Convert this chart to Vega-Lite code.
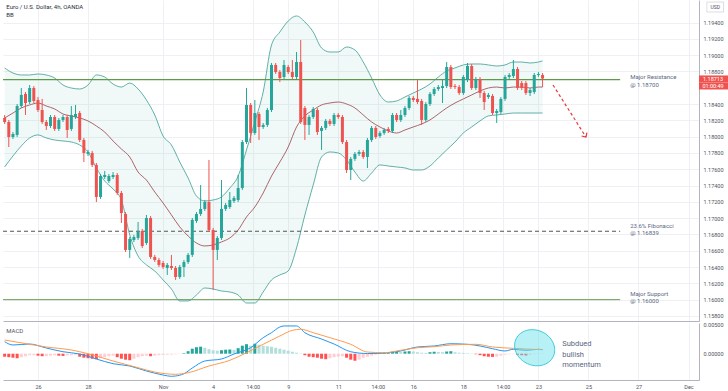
{
"$schema": "https://vega.github.io/schema/vega-lite/v6.json",
"padding": 0,
"background": "white",
"config": {"view": {"stroke": null}, "font": "Roboto", "concat": {"spacing": 1}, "scale": {"continuousPadding": 0}},
"datasets": {
"c": [
{"i":-8,"o":1.18229,"h":1.18266,"l":1.18156,"c":1.1818,"hist":-0.00052},
{"i":-7,"o":1.1818,"h":1.18205,"l":1.17873,"c":1.17996,"hist":-0.0006},
{"i":-6,"o":1.17996,"h":1.18057,"l":1.17972,"c":1.18033,"hist":-0.00069},
{"i":-5,"o":1.18021,"h":1.18401,"l":1.17996,"c":1.18376,"hist":-0.00078},
{"i":-4,"o":1.18376,"h":1.18597,"l":1.18352,"c":1.18512,"hist":-0.0006},
{"i":-3,"o":1.18524,"h":1.18548,"l":1.18266,"c":1.18413,"hist":-0.00043},
{"i":-2,"o":1.18425,"h":1.18634,"l":1.18401,"c":1.18597,"hist":-0.00026},
{"i":-1,"o":1.18597,"h":1.18621,"l":1.18413,"c":1.18438,"hist":-0.00026},
{"i":0,"o":1.1845,"h":1.18487,"l":1.18302,"c":1.18327,"hist":-0.00034},
{"i":1,"o":1.18327,"h":1.18463,"l":1.18156,"c":1.1818,"hist":-0.00043},
{"i":2,"o":1.1818,"h":1.18205,"l":1.18082,"c":1.18131,"hist":-0.00043},
{"i":3,"o":1.18131,"h":1.18266,"l":1.18107,"c":1.18241,"hist":-0.00034},
{"i":4,"o":1.18241,"h":1.18266,"l":1.1807,"c":1.18095,"hist":-0.00026},
{"i":5,"o":1.18095,"h":1.18229,"l":1.1807,"c":1.18205,"hist":-0.00034},
{"i":6,"o":1.18205,"h":1.18266,"l":1.1818,"c":1.18241,"hist":-0.00038},
{"i":7,"o":1.18241,"h":1.18266,"l":1.17984,"c":1.18082,"hist":-0.00031},
{"i":8,"o":1.18095,"h":1.18376,"l":1.1807,"c":1.18266,"hist":-0.00026},
{"i":9,"o":1.18241,"h":1.18389,"l":1.18217,"c":1.18278,"hist":-0.00017},
{"i":10,"o":1.1829,"h":1.18315,"l":1.17934,"c":1.17959,"hist":-0.00052},
{"i":11,"o":1.17959,"h":1.17984,"l":1.17689,"c":1.178,"hist":-0.00069},
{"i":12,"o":1.17788,"h":1.17837,"l":1.17763,"c":1.17812,"hist":-0.00078},
{"i":13,"o":1.178,"h":1.17825,"l":1.17628,"c":1.17653,"hist":-0.00086},
{"i":14,"o":1.17653,"h":1.17677,"l":1.17198,"c":1.1726,"hist":-0.00095},
{"i":15,"o":1.1726,"h":1.17542,"l":1.17236,"c":1.17517,"hist":-0.00078},
{"i":16,"o":1.17505,"h":1.17579,"l":1.17481,"c":1.1753,"hist":-0.0006},
{"i":17,"o":1.17456,"h":1.17542,"l":1.17431,"c":1.17517,"hist":-0.00043},
{"i":18,"o":1.17505,"h":1.17566,"l":1.17481,"c":1.1753,"hist":-0.00034},
{"i":19,"o":1.1753,"h":1.17554,"l":1.17285,"c":1.17309,"hist":-0.0006},
{"i":20,"o":1.17309,"h":1.17334,"l":1.16941,"c":1.17063,"hist":-0.00086},
{"i":21,"o":1.17051,"h":1.17075,"l":1.16585,"c":1.1661,"hist":-0.00103},
{"i":22,"o":1.1661,"h":1.16769,"l":1.16512,"c":1.16745,"hist":-0.00112},
{"i":23,"o":1.16732,"h":1.16794,"l":1.16707,"c":1.16769,"hist":-0.00086},
{"i":24,"o":1.16757,"h":1.16953,"l":1.16732,"c":1.1683,"hist":-0.0006},
{"i":25,"o":1.16843,"h":1.16868,"l":1.16634,"c":1.16658,"hist":-0.00043},
{"i":26,"o":1.16695,"h":1.17039,"l":1.16671,"c":1.17002,"hist":-0.00034},
{"i":27,"o":1.17002,"h":1.17026,"l":1.165,"c":1.16524,"hist":-0.00043},
{"i":28,"o":1.16524,"h":1.16549,"l":1.16462,"c":1.16487,"hist":-0.00034},
{"i":29,"o":1.16487,"h":1.16512,"l":1.16401,"c":1.16426,"hist":-0.00026},
{"i":30,"o":1.1645,"h":1.16475,"l":1.16377,"c":1.16401,"hist":-0.00021},
{"i":31,"o":1.16389,"h":1.1645,"l":1.16303,"c":1.16426,"hist":-0.00017},
{"i":32,"o":1.16413,"h":1.16549,"l":1.16364,"c":1.16389,"hist":-0.00014},
{"i":33,"o":1.16389,"h":1.16413,"l":1.16242,"c":1.16278,"hist":-0.00009},
{"i":34,"o":1.16278,"h":1.16426,"l":1.16254,"c":1.16401,"hist":-0.00005},
{"i":35,"o":1.16401,"h":1.16487,"l":1.16278,"c":1.16462,"hist":0.00009},
{"i":36,"o":1.16462,"h":1.16573,"l":1.16438,"c":1.16549,"hist":0.00043},
{"i":37,"o":1.16549,"h":1.17002,"l":1.16524,"c":1.16978,"hist":0.00086},
{"i":38,"o":1.16966,"h":1.17075,"l":1.16941,"c":1.17051,"hist":0.00112},
{"i":39,"o":1.17051,"h":1.17407,"l":1.17026,"c":1.17113,"hist":0.00121},
{"i":40,"o":1.17113,"h":1.17223,"l":1.17088,"c":1.17198,"hist":0.00103},
{"i":41,"o":1.17198,"h":1.17714,"l":1.1683,"c":1.16855,"hist":0.00078},
{"i":42,"o":1.16855,"h":1.1688,"l":1.16119,"c":1.1661,"hist":0.0006},
{"i":43,"o":1.1661,"h":1.16781,"l":1.16487,"c":1.16757,"hist":0.00052},
{"i":44,"o":1.16757,"h":1.17468,"l":1.16732,"c":1.17113,"hist":0.0006},
{"i":45,"o":1.17113,"h":1.17186,"l":1.17088,"c":1.17162,"hist":0.00069},
{"i":46,"o":1.17137,"h":1.17321,"l":1.17113,"c":1.17223,"hist":0.00072},
{"i":47,"o":1.17211,"h":1.17272,"l":1.17186,"c":1.17248,"hist":0.00066},
{"i":48,"o":1.17223,"h":1.1753,"l":1.17198,"c":1.1737,"hist":0.00095},
{"i":49,"o":1.1737,"h":1.17959,"l":1.17346,"c":1.17934,"hist":0.00138},
{"i":50,"o":1.17934,"h":1.18597,"l":1.1791,"c":1.18389,"hist":0.00164},
{"i":51,"o":1.18389,"h":1.18413,"l":1.17922,"c":1.18045,"hist":0.00138},
{"i":52,"o":1.18045,"h":1.1845,"l":1.18021,"c":1.1829,"hist":0.00172},
{"i":53,"o":1.18278,"h":1.18302,"l":1.17959,"c":1.18119,"hist":0.00155},
{"i":54,"o":1.18119,"h":1.18168,"l":1.18095,"c":1.18144,"hist":0.00138},
{"i":55,"o":1.18144,"h":1.18352,"l":1.18119,"c":1.18327,"hist":0.00129},
{"i":56,"o":1.18327,"h":1.18904,"l":1.18302,"c":1.1888,"hist":0.00121},
{"i":57,"o":1.1888,"h":1.18904,"l":1.18769,"c":1.18793,"hist":0.00103},
{"i":58,"o":1.18793,"h":1.18818,"l":1.1867,"c":1.1872,"hist":0.00086},
{"i":59,"o":1.18732,"h":1.18941,"l":1.18708,"c":1.1888,"hist":0.00069},
{"i":60,"o":1.18855,"h":1.1888,"l":1.18769,"c":1.18793,"hist":0.00052},
{"i":61,"o":1.18793,"h":1.18941,"l":1.18708,"c":1.18732,"hist":0.00034},
{"i":62,"o":1.18732,"h":1.19039,"l":1.18708,"c":1.18916,"hist":0.00017},
{"i":63,"o":1.18916,"h":1.19186,"l":1.18156,"c":1.1818,"hist":0.00005},
{"i":64,"o":1.18352,"h":1.18376,"l":1.17959,"c":1.18144,"hist":-0.00026},
{"i":65,"o":1.18144,"h":1.18266,"l":1.18021,"c":1.18241,"hist":-0.00052},
{"i":66,"o":1.18241,"h":1.18364,"l":1.18217,"c":1.1834,"hist":-0.0006},
{"i":67,"o":1.18327,"h":1.18352,"l":1.18021,"c":1.18057,"hist":-0.00069},
{"i":68,"o":1.1807,"h":1.18131,"l":1.17837,"c":1.18107,"hist":-0.00086},
{"i":69,"o":1.18107,"h":1.18217,"l":1.18082,"c":1.18193,"hist":-0.00095},
{"i":70,"o":1.18193,"h":1.18217,"l":1.18131,"c":1.18156,"hist":-0.00078},
{"i":71,"o":1.18156,"h":1.1829,"l":1.18131,"c":1.18266,"hist":-0.0006},
{"i":72,"o":1.18266,"h":1.1829,"l":1.18217,"c":1.18241,"hist":-0.00052},
{"i":73,"o":1.18241,"h":1.18266,"l":1.1791,"c":1.17934,"hist":-0.00043},
{"i":74,"o":1.17934,"h":1.17959,"l":1.17554,"c":1.17591,"hist":-0.00069},
{"i":75,"o":1.17591,"h":1.17751,"l":1.17468,"c":1.17727,"hist":-0.00103},
{"i":76,"o":1.17727,"h":1.17812,"l":1.17702,"c":1.17788,"hist":-0.00121},
{"i":77,"o":1.17788,"h":1.17837,"l":1.17763,"c":1.17812,"hist":-0.00103},
{"i":78,"o":1.17812,"h":1.17837,"l":1.17727,"c":1.17751,"hist":-0.00069},
{"i":79,"o":1.17751,"h":1.17984,"l":1.17616,"c":1.17959,"hist":-0.00052},
{"i":80,"o":1.17959,"h":1.18131,"l":1.17934,"c":1.18107,"hist":-0.00034},
{"i":81,"o":1.18107,"h":1.18131,"l":1.17972,"c":1.17996,"hist":-0.00017},
{"i":82,"o":1.18008,"h":1.1807,"l":1.17984,"c":1.18045,"hist":0.00009},
{"i":83,"o":1.18045,"h":1.18107,"l":1.18021,"c":1.18082,"hist":0.00017},
{"i":84,"o":1.18095,"h":1.18119,"l":1.18045,"c":1.1807,"hist":0.00026},
{"i":85,"o":1.1807,"h":1.1829,"l":1.18045,"c":1.18266,"hist":0.00034},
{"i":86,"o":1.18266,"h":1.1829,"l":1.1818,"c":1.18205,"hist":0.00034},
{"i":87,"o":1.18205,"h":1.18327,"l":1.1818,"c":1.18266,"hist":0.00031},
{"i":88,"o":1.18266,"h":1.18376,"l":1.18241,"c":1.18352,"hist":0.00038},
{"i":89,"o":1.18352,"h":1.18499,"l":1.18327,"c":1.18475,"hist":0.00043},
{"i":90,"o":1.18475,"h":1.18499,"l":1.18425,"c":1.1845,"hist":0.00038},
{"i":91,"o":1.18463,"h":1.18695,"l":1.18401,"c":1.18425,"hist":0.00026},
{"i":92,"o":1.18438,"h":1.18463,"l":1.18144,"c":1.18205,"hist":0.00017},
{"i":93,"o":1.18205,"h":1.18425,"l":1.1818,"c":1.18401,"hist":0.00014},
{"i":94,"o":1.18401,"h":1.18548,"l":1.18376,"c":1.18524,"hist":0.00026},
{"i":95,"o":1.18524,"h":1.18609,"l":1.18499,"c":1.18585,"hist":0.00034},
{"i":96,"o":1.18585,"h":1.18634,"l":1.18561,"c":1.18609,"hist":0.00031},
{"i":97,"o":1.18597,"h":1.18695,"l":1.18413,"c":1.18621,"hist":0.00026},
{"i":98,"o":1.18621,"h":1.18916,"l":1.18597,"c":1.18855,"hist":0.00038},
{"i":99,"o":1.18855,"h":1.1888,"l":1.18585,"c":1.18609,"hist":0.00043},
{"i":100,"o":1.18621,"h":1.18646,"l":1.18585,"c":1.18609,"hist":0.00026},
{"i":101,"o":1.18609,"h":1.18634,"l":1.18512,"c":1.18536,"hist":0.00017},
{"i":102,"o":1.18536,"h":1.18757,"l":1.18512,"c":1.18732,"hist":0.00014},
{"i":103,"o":1.18695,"h":1.18904,"l":1.1867,"c":1.18867,"hist":0.00009},
{"i":104,"o":1.18867,"h":1.18892,"l":1.18573,"c":1.18597,"hist":0.00005},
{"i":105,"o":1.18597,"h":1.18732,"l":1.18573,"c":1.18708,"hist":-0.00009},
{"i":106,"o":1.18708,"h":1.18732,"l":1.18475,"c":1.18536,"hist":-0.00026},
{"i":107,"o":1.18536,"h":1.18561,"l":1.18327,"c":1.18425,"hist":-0.00043},
{"i":108,"o":1.18487,"h":1.18536,"l":1.18463,"c":1.18512,"hist":-0.00052},
{"i":109,"o":1.18499,"h":1.18524,"l":1.18266,"c":1.1829,"hist":-0.00055},
{"i":110,"o":1.1829,"h":1.1834,"l":1.18168,"c":1.18315,"hist":-0.00052},
{"i":111,"o":1.18302,"h":1.18487,"l":1.18278,"c":1.18463,"hist":-0.00034},
{"i":112,"o":1.18463,"h":1.18757,"l":1.18438,"c":1.18732,"hist":-0.00017},
{"i":113,"o":1.18732,"h":1.18781,"l":1.18708,"c":1.18757,"hist":-0.00009},
{"i":114,"o":1.18744,"h":1.18941,"l":1.1872,"c":1.1883,"hist":-0.00005},
{"i":115,"o":1.1883,"h":1.18855,"l":1.18573,"c":1.18597,"hist":-0.00017},
{"i":116,"o":1.18658,"h":1.18683,"l":1.18573,"c":1.18597,"hist":-0.00026},
{"i":117,"o":1.18658,"h":1.18683,"l":1.18512,"c":1.18536,"hist":-0.00031},
{"i":118,"o":1.18536,"h":1.18597,"l":1.18499,"c":1.18573,"hist":-0.00017},
{"i":119,"o":1.18548,"h":1.18781,"l":1.18524,"c":1.18757,"hist":-0.00009},
{"i":120,"o":1.18757,"h":1.18793,"l":1.18732,"c":1.18769,"hist":-0.00005},
{"i":121,"o":1.18757,"h":1.18781,"l":1.18609,"c":1.18713,"hist":-0.00003}
],
"bb": [
{"i":-8,"u":1.18843,"m":1.18229,"lo":1.17628},
{"i":-6,"u":1.18781,"m":1.1829,"lo":1.17763},
{"i":-4,"u":1.18757,"m":1.18352,"lo":1.17886},
{"i":-2,"u":1.18757,"m":1.18389,"lo":1.17984},
{"i":0,"u":1.18769,"m":1.18413,"lo":1.18021},
{"i":2,"u":1.18757,"m":1.18376,"lo":1.17984},
{"i":4,"u":1.1872,"m":1.1834,"lo":1.17959},
{"i":6,"u":1.18634,"m":1.18278,"lo":1.17947},
{"i":8,"u":1.18597,"m":1.18254,"lo":1.17934},
{"i":10,"u":1.18585,"m":1.18229,"lo":1.17898},
{"i":12,"u":1.18634,"m":1.18193,"lo":1.17812},
{"i":14,"u":1.18757,"m":1.18131,"lo":1.17616},
{"i":16,"u":1.18732,"m":1.18057,"lo":1.17456},
{"i":18,"u":1.18646,"m":1.17947,"lo":1.17358},
{"i":20,"u":1.18609,"m":1.17849,"lo":1.17223},
{"i":22,"u":1.18658,"m":1.17751,"lo":1.16794},
{"i":24,"u":1.18585,"m":1.17566,"lo":1.16536},
{"i":26,"u":1.1845,"m":1.17468,"lo":1.16426},
{"i":28,"u":1.18266,"m":1.17321,"lo":1.16352},
{"i":30,"u":1.18008,"m":1.17186,"lo":1.16242},
{"i":32,"u":1.17898,"m":1.17039,"lo":1.16131},
{"i":34,"u":1.17689,"m":1.16892,"lo":1.15984},
{"i":36,"u":1.17493,"m":1.16781,"lo":1.15984},
{"i":38,"u":1.17272,"m":1.16695,"lo":1.16057},
{"i":40,"u":1.17211,"m":1.16659,"lo":1.16143},
{"i":42,"u":1.17223,"m":1.16671,"lo":1.16131},
{"i":44,"u":1.1726,"m":1.16708,"lo":1.16106},
{"i":46,"u":1.1737,"m":1.16757,"lo":1.16094},
{"i":48,"u":1.17517,"m":1.16855,"lo":1.16057},
{"i":50,"u":1.17837,"m":1.17014,"lo":1.15959},
{"i":52,"u":1.1818,"m":1.17137,"lo":1.15959},
{"i":54,"u":1.18548,"m":1.17309,"lo":1.16094},
{"i":56,"u":1.19125,"m":1.17517,"lo":1.16242},
{"i":58,"u":1.19284,"m":1.17689,"lo":1.16303},
{"i":60,"u":1.19419,"m":1.17873,"lo":1.16352},
{"i":62,"u":1.19481,"m":1.18119,"lo":1.16634},
{"i":64,"u":1.19407,"m":1.18254,"lo":1.17039},
{"i":66,"u":1.19284,"m":1.18327,"lo":1.17407},
{"i":68,"u":1.19088,"m":1.18389,"lo":1.17751},
{"i":70,"u":1.19039,"m":1.18413,"lo":1.17812},
{"i":72,"u":1.19039,"m":1.18425,"lo":1.178},
{"i":74,"u":1.191,"m":1.18401,"lo":1.17714},
{"i":76,"u":1.19064,"m":1.18352,"lo":1.17566},
{"i":78,"u":1.18916,"m":1.18266,"lo":1.17456},
{"i":80,"u":1.1872,"m":1.1818,"lo":1.17554},
{"i":82,"u":1.18512,"m":1.18119,"lo":1.17653},
{"i":84,"u":1.18425,"m":1.1807,"lo":1.1764},
{"i":86,"u":1.18438,"m":1.18045,"lo":1.17628},
{"i":88,"u":1.18487,"m":1.18082,"lo":1.17616},
{"i":90,"u":1.18536,"m":1.18119,"lo":1.17591},
{"i":92,"u":1.18585,"m":1.18156,"lo":1.17591},
{"i":94,"u":1.18646,"m":1.18205,"lo":1.1764},
{"i":96,"u":1.18732,"m":1.18278,"lo":1.17739},
{"i":98,"u":1.18806,"m":1.18352,"lo":1.17837},
{"i":100,"u":1.18843,"m":1.18413,"lo":1.17934},
{"i":102,"u":1.1888,"m":1.18463,"lo":1.18045},
{"i":104,"u":1.18892,"m":1.18512,"lo":1.18119},
{"i":106,"u":1.18892,"m":1.18561,"lo":1.18193},
{"i":108,"u":1.1888,"m":1.18597,"lo":1.18254},
{"i":110,"u":1.18867,"m":1.18609,"lo":1.18266},
{"i":112,"u":1.1888,"m":1.18597,"lo":1.18278},
{"i":114,"u":1.18916,"m":1.18609,"lo":1.1829},
{"i":116,"u":1.18916,"m":1.18609,"lo":1.1829},
{"i":118,"u":1.18904,"m":1.18597,"lo":1.1829},
{"i":120,"u":1.18916,"m":1.18609,"lo":1.1829},
{"i":121,"u":1.18929,"m":1.18609,"lo":1.1829}
],
"mb": [
{"i":-8,"v":0.00207},{"i":-6,"v":0.0015},{"i":-2,"v":0.00167},{"i":2,"v":0.00098},{"i":6,"v":0.00034},{"i":10,"v":-0.00005},{"i":14,"v":-0.00091},{"i":18,"v":-0.00172},{"i":22,"v":-0.00212},{"i":26,"v":-0.00298},{"i":30,"v":-0.00367},{"i":32,"v":-0.0039},{"i":33,"v":-0.00384},{"i":35,"v":-0.00345},{"i":37,"v":-0.00247},{"i":40,"v":-0.00126},{"i":44,"v":-0.00091},{"i":47,"v":-0.00005},{"i":51,"v":0.00103},{"i":54,"v":0.00276},{"i":56,"v":0.00362},{"i":58,"v":0.0046},{"i":59,"v":0.00478},{"i":62,"v":0.00478},{"i":64,"v":0.00362},{"i":68,"v":0.00253},{"i":71,"v":0.00167},{"i":75,"v":0.00034},{"i":79,"v":0.00003},{"i":82,"v":0.00007},{"i":87,"v":0.00047},{"i":91,"v":0.00116},{"i":95,"v":0.00133},{"i":99,"v":0.00172},{"i":103,"v":0.00162},{"i":106,"v":0.00133},{"i":109,"v":0.00086},{"i":112,"v":0.00047},{"i":114,"v":0.00076},{"i":117,"v":0.00059},{"i":120,"v":0.00076},{"i":121,"v":0.00069}
],
"ms": [
{"i":-8,"v":0.00236},{"i":-2,"v":0.00162},{"i":2,"v":0.00116},{"i":8,"v":0.00064},{"i":12,"v":0},{"i":18,"v":-0.00126},{"i":24,"v":-0.00241},{"i":28,"v":-0.00316},{"i":33,"v":-0.00355},{"i":36,"v":-0.00328},{"i":41,"v":-0.00212},{"i":46,"v":-0.00114},{"i":50,"v":0.00017},{"i":54,"v":0.00162},{"i":58,"v":0.00305},{"i":61,"v":0.00403},{"i":63,"v":0.00421},{"i":66,"v":0.00362},{"i":70,"v":0.00276},{"i":75,"v":0.00162},{"i":79,"v":0.00029},{"i":83,"v":0.00017},{"i":87,"v":0.00059},{"i":91,"v":0.00103},{"i":95,"v":0.00121},{"i":99,"v":0.0015},{"i":105,"v":0.00162},{"i":109,"v":0.00116},{"i":114,"v":0.00093},{"i":117,"v":0.00081},{"i":121,"v":0.00069}
],
"lev": [
{"i":-8.39,"p":1.187,"k":"res"},{"i":139.6,"p":1.187,"k":"res"},
{"i":-8.39,"p":1.16839,"k":"fib"},{"i":139.6,"p":1.16839,"k":"fib"},
{"i":-8.39,"p":1.16,"k":"sup"},{"i":139.6,"p":1.16,"k":"sup"}
],
"levlab": [
{"i":142,"p":1.18732,"t":"Major Resistance"},
{"i":142,"p":1.1864,"t":"@ 1.18700"},
{"i":142,"p":1.16904,"t":"23.6% Fibonacci"},
{"i":142,"p":1.16818,"t":"@ 1.16839"},
{"i":142,"p":1.1607,"t":"Major Support"},
{"i":142,"p":1.15984,"t":"@ 1.16000"}
],
"arrow": [{"i":123.5,"p":1.18634},{"i":131.4,"p":1.17996}],
"ttl": [{"i":-7.6,"p":1.19591,"t":"Euro / U.S. Dollar, 4h, OANDA"},{"i":-7.6,"p":1.19493,"t":"BB"}],
"pbox": [{"i":158.51,"i2":165.6,"p":1.18751,"p2":1.18665,"tp":1.18708,"t":"1.18713"},{"i":158.51,"i2":165.6,"p":1.18665,"p2":1.18579,"tp":1.18622,"t":"01:00:49"}],
"usdbox": [{"i":160.4,"i2":164.4,"p":1.19652,"p2":1.1953}],
"usdtxt": [{"i":162.4,"p":1.19591,"t":"USD"}],
"ell": [{"i":119.1,"v":0.00103}],
"mlab": [{"i":-7.6,"v":0.00391,"t":"MACD"}],
"note": [{"i":125.7,"v":0.00167,"t":"Subdued"},{"i":125.7,"v":-0.00014,"t":"bullish"},{"i":125.7,"v":-0.00195,"t":"momentum"}]
},
"vconcat": [
{
"width": 696, "height": 321,
"encoding": {"x": {"field":"i","type":"quantitative","title":null,"scale":{"domain":[-8.39,158.51],"nice":false,"zero":false,"padding":0},"axis":{"orient":"bottom","values":[0,12,30,42,51.5,60,72,81.5,90,102,111.5,120,132,144,156],"labels":false,"ticks":false,"domain":true,"domainColor":"#b2b5be","grid":true,"gridColor":"#eef0f3"}}},
"layer": [
{"data":{"name":"bb"},"mark":{"type":"area","color":"#26a69a","opacity":0.07,"interpolate":"monotone"},
 "encoding":{"y":{"field":"u","type":"quantitative","title":null,"scale":{"domain":[1.15738,1.19677],"nice":false,"zero":false},"axis":{"orient":"right","values":[1.158,1.16,1.162,1.164,1.166,1.168,1.17,1.172,1.174,1.176,1.178,1.18,1.182,1.184,1.188,1.19,1.192,1.194],"labelExpr":"format(datum.value, '.5f')","grid":true,"gridColor":"#eef0f3","domain":true,"domainColor":"#b2b5be","ticks":false,"labelFontSize":5.5,"labelColor":"#50535e","labelPadding":4}},"y2":{"field":"lo"}}},
{"data":{"name":"bb"},"mark":{"type":"line","color":"#4fa79d","strokeWidth":0.9,"interpolate":"monotone"},
 "encoding":{"y":{"field":"u","type":"quantitative","title":null,"scale":{"domain":[1.15738,1.19677],"nice":false,"zero":false},"axis":{"orient":"right","values":[1.158,1.16,1.162,1.164,1.166,1.168,1.17,1.172,1.174,1.176,1.178,1.18,1.182,1.184,1.188,1.19,1.192,1.194],"labelExpr":"format(datum.value, '.5f')","grid":true,"gridColor":"#eef0f3","domain":true,"domainColor":"#b2b5be","ticks":false,"labelFontSize":5.5,"labelColor":"#50535e","labelPadding":4}}}},
{"data":{"name":"bb"},"mark":{"type":"line","color":"#4fa79d","strokeWidth":0.9,"interpolate":"monotone"},
 "encoding":{"y":{"field":"lo","type":"quantitative","title":null,"scale":{"domain":[1.15738,1.19677],"nice":false,"zero":false},"axis":{"orient":"right","values":[1.158,1.16,1.162,1.164,1.166,1.168,1.17,1.172,1.174,1.176,1.178,1.18,1.182,1.184,1.188,1.19,1.192,1.194],"labelExpr":"format(datum.value, '.5f')","grid":true,"gridColor":"#eef0f3","domain":true,"domainColor":"#b2b5be","ticks":false,"labelFontSize":5.5,"labelColor":"#50535e","labelPadding":4}}}},
{"data":{"name":"bb"},"mark":{"type":"line","color":"#a3545a","strokeWidth":0.9,"interpolate":"monotone"},
 "encoding":{"y":{"field":"m","type":"quantitative","title":null,"scale":{"domain":[1.15738,1.19677],"nice":false,"zero":false},"axis":{"orient":"right","values":[1.158,1.16,1.162,1.164,1.166,1.168,1.17,1.172,1.174,1.176,1.178,1.18,1.182,1.184,1.188,1.19,1.192,1.194],"labelExpr":"format(datum.value, '.5f')","grid":true,"gridColor":"#eef0f3","domain":true,"domainColor":"#b2b5be","ticks":false,"labelFontSize":5.5,"labelColor":"#50535e","labelPadding":4}}}},
{"data":{"name":"lev"},"mark":{"type":"line"},
 "encoding":{"y":{"field":"p","type":"quantitative","title":null,"scale":{"domain":[1.15738,1.19677],"nice":false,"zero":false},"axis":{"orient":"right","values":[1.158,1.16,1.162,1.164,1.166,1.168,1.17,1.172,1.174,1.176,1.178,1.18,1.182,1.184,1.188,1.19,1.192,1.194],"labelExpr":"format(datum.value, '.5f')","grid":true,"gridColor":"#eef0f3","domain":true,"domainColor":"#b2b5be","ticks":false,"labelFontSize":5.5,"labelColor":"#50535e","labelPadding":4}},
  "detail":{"field":"k"},
  "color":{"field":"k","type":"nominal","scale":{"domain":["res","fib","sup"],"range":["#5f9a48","#555555","#6a9e55"]},"legend":null},
  "strokeWidth":{"field":"k","type":"nominal","scale":{"domain":["res","fib","sup"],"range":[1.3,1,1.6]},"legend":null},
  "strokeDash":{"field":"k","type":"nominal","scale":{"domain":["res","fib","sup"],"range":[[1,0],[4,3],[1,0]]},"legend":null}}},
{"data":{"name":"c"},"mark":{"type":"rule","strokeWidth":1},
 "encoding":{"y":{"field":"l","type":"quantitative","title":null,"scale":{"domain":[1.15738,1.19677],"nice":false,"zero":false},"axis":{"orient":"right","values":[1.158,1.16,1.162,1.164,1.166,1.168,1.17,1.172,1.174,1.176,1.178,1.18,1.182,1.184,1.188,1.19,1.192,1.194],"labelExpr":"format(datum.value, '.5f')","grid":true,"gridColor":"#eef0f3","domain":true,"domainColor":"#b2b5be","ticks":false,"labelFontSize":5.5,"labelColor":"#50535e","labelPadding":4}},"y2":{"field":"h"},
  "color":{"condition":{"test":"datum.c >= datum.o","value":"#26a69a"},"value":"#ef5350"}}},
{"data":{"name":"c"},"mark":{"type":"bar","width":3},
 "encoding":{"y":{"field":"o","type":"quantitative","title":null,"scale":{"domain":[1.15738,1.19677],"nice":false,"zero":false},"axis":{"orient":"right","values":[1.158,1.16,1.162,1.164,1.166,1.168,1.17,1.172,1.174,1.176,1.178,1.18,1.182,1.184,1.188,1.19,1.192,1.194],"labelExpr":"format(datum.value, '.5f')","grid":true,"gridColor":"#eef0f3","domain":true,"domainColor":"#b2b5be","ticks":false,"labelFontSize":5.5,"labelColor":"#50535e","labelPadding":4}},"y2":{"field":"c"},
  "color":{"condition":{"test":"datum.c >= datum.o","value":"#26a69a"},"value":"#ef5350"}}},
{"data":{"name":"arrow"},"mark":{"type":"line","color":"#e53935","strokeWidth":1.2,"strokeDash":[3,2.5]},
 "encoding":{"y":{"field":"p","type":"quantitative","title":null,"scale":{"domain":[1.15738,1.19677],"nice":false,"zero":false},"axis":{"orient":"right","values":[1.158,1.16,1.162,1.164,1.166,1.168,1.17,1.172,1.174,1.176,1.178,1.18,1.182,1.184,1.188,1.19,1.192,1.194],"labelExpr":"format(datum.value, '.5f')","grid":true,"gridColor":"#eef0f3","domain":true,"domainColor":"#b2b5be","ticks":false,"labelFontSize":5.5,"labelColor":"#50535e","labelPadding":4}}}},
{"data":{"name":"arrow"},"transform":[{"filter":"datum.i > 130"}],"mark":{"type":"point","shape":"M-1,-1L0,0L1,-1","filled":false,"stroke":"#e53935","strokeWidth":1.2,"size":40,"angle":-32,"opacity":1},
 "encoding":{"y":{"field":"p","type":"quantitative","title":null,"scale":{"domain":[1.15738,1.19677],"nice":false,"zero":false},"axis":{"orient":"right","values":[1.158,1.16,1.162,1.164,1.166,1.168,1.17,1.172,1.174,1.176,1.178,1.18,1.182,1.184,1.188,1.19,1.192,1.194],"labelExpr":"format(datum.value, '.5f')","grid":true,"gridColor":"#eef0f3","domain":true,"domainColor":"#b2b5be","ticks":false,"labelFontSize":5.5,"labelColor":"#50535e","labelPadding":4}}}},
{"data":{"name":"levlab"},"mark":{"type":"text","align":"left","baseline":"middle","fontSize":6,"color":"#5a6783"},
 "encoding":{"y":{"field":"p","type":"quantitative","title":null,"scale":{"domain":[1.15738,1.19677],"nice":false,"zero":false},"axis":{"orient":"right","values":[1.158,1.16,1.162,1.164,1.166,1.168,1.17,1.172,1.174,1.176,1.178,1.18,1.182,1.184,1.188,1.19,1.192,1.194],"labelExpr":"format(datum.value, '.5f')","grid":true,"gridColor":"#eef0f3","domain":true,"domainColor":"#b2b5be","ticks":false,"labelFontSize":5.5,"labelColor":"#50535e","labelPadding":4}},"text":{"field":"t"}}},
{"data":{"name":"ttl"},"mark":{"type":"text","align":"left","baseline":"middle","fontSize":6,"color":"#2a2e39"},
 "encoding":{"y":{"field":"p","type":"quantitative","title":null,"scale":{"domain":[1.15738,1.19677],"nice":false,"zero":false},"axis":{"orient":"right","values":[1.158,1.16,1.162,1.164,1.166,1.168,1.17,1.172,1.174,1.176,1.178,1.18,1.182,1.184,1.188,1.19,1.192,1.194],"labelExpr":"format(datum.value, '.5f')","grid":true,"gridColor":"#eef0f3","domain":true,"domainColor":"#b2b5be","ticks":false,"labelFontSize":5.5,"labelColor":"#50535e","labelPadding":4}},"text":{"field":"t"}}},
{"data":{"name":"pbox"},"mark":{"type":"rect","color":"#ef5350"},
 "encoding":{"x2":{"field":"i2"},"y":{"field":"p","type":"quantitative","title":null,"scale":{"domain":[1.15738,1.19677],"nice":false,"zero":false},"axis":{"orient":"right","values":[1.158,1.16,1.162,1.164,1.166,1.168,1.17,1.172,1.174,1.176,1.178,1.18,1.182,1.184,1.188,1.19,1.192,1.194],"labelExpr":"format(datum.value, '.5f')","grid":true,"gridColor":"#eef0f3","domain":true,"domainColor":"#b2b5be","ticks":false,"labelFontSize":5.5,"labelColor":"#50535e","labelPadding":4}},"y2":{"field":"p2"}}},
{"data":{"name":"pbox"},"mark":{"type":"text","align":"center","baseline":"middle","fontSize":5.5,"color":"white"},
 "encoding":{"xOffset":{"value":14},"y":{"field":"tp","type":"quantitative","title":null,"scale":{"domain":[1.15738,1.19677],"nice":false,"zero":false},"axis":{"orient":"right","values":[1.158,1.16,1.162,1.164,1.166,1.168,1.17,1.172,1.174,1.176,1.178,1.18,1.182,1.184,1.188,1.19,1.192,1.194],"labelExpr":"format(datum.value, '.5f')","grid":true,"gridColor":"#eef0f3","domain":true,"domainColor":"#b2b5be","ticks":false,"labelFontSize":5.5,"labelColor":"#50535e","labelPadding":4}},"text":{"field":"t"}}},
{"data":{"name":"usdbox"},"mark":{"type":"rect","fill":"white","stroke":"#d1d4dc","strokeWidth":0.8},
 "encoding":{"x2":{"field":"i2"},"y":{"field":"p","type":"quantitative","title":null,"scale":{"domain":[1.15738,1.19677],"nice":false,"zero":false},"axis":{"orient":"right","values":[1.158,1.16,1.162,1.164,1.166,1.168,1.17,1.172,1.174,1.176,1.178,1.18,1.182,1.184,1.188,1.19,1.192,1.194],"labelExpr":"format(datum.value, '.5f')","grid":true,"gridColor":"#eef0f3","domain":true,"domainColor":"#b2b5be","ticks":false,"labelFontSize":5.5,"labelColor":"#50535e","labelPadding":4}},"y2":{"field":"p2"}}},
{"data":{"name":"usdtxt"},"mark":{"type":"text","align":"center","baseline":"middle","fontSize":5,"color":"#50535e"},
 "encoding":{"y":{"field":"p","type":"quantitative","title":null,"scale":{"domain":[1.15738,1.19677],"nice":false,"zero":false},"axis":{"orient":"right","values":[1.158,1.16,1.162,1.164,1.166,1.168,1.17,1.172,1.174,1.176,1.178,1.18,1.182,1.184,1.188,1.19,1.192,1.194],"labelExpr":"format(datum.value, '.5f')","grid":true,"gridColor":"#eef0f3","domain":true,"domainColor":"#b2b5be","ticks":false,"labelFontSize":5.5,"labelColor":"#50535e","labelPadding":4}},"text":{"field":"t"}}}
]
},
{
"width": 696, "height": 57,
"encoding": {"x": {"field":"i","type":"quantitative","title":null,"scale":{"domain":[-8.39,158.51],"nice":false,"zero":false,"padding":0},"axis":{"orient":"bottom","values":[0,12,30,42,51.5,60,72,81.5,90,102,111.5,120,132,144,156],"labelExpr":"datum.value==0?'26':datum.value==12?'28':datum.value==30?'Nov':datum.value==42?'4':datum.value==60?'9':datum.value==72?'11':datum.value==90?'16':datum.value==102?'18':datum.value==120?'23':datum.value==132?'25':datum.value==144?'27':datum.value==156?'Dec':'14:00'","labelOverlap":false,"labelFlush":false,"ticks":false,"labelFontSize":5.5,"labelColor":"#50535e","labelPadding":4,"domain":true,"domainColor":"#b2b5be","grid":true,"gridColor":"#eef0f3"}}},
"layer": [
{"data":{"name":"c"},"transform":[{"window":[{"op":"lag","field":"hist","as":"prev"}],"sort":[{"field":"i","order":"ascending"}]}],
 "mark":{"type":"bar","width":3},
 "encoding":{"y":{"field":"hist","type":"quantitative","title":null,"scale":{"domain":[-0.00453,0.00529],"nice":false,"zero":false},"axis":{"orient":"right","values":[0,0.005],"labelExpr":"format(datum.value, '.5f')","grid":false,"domain":true,"domainColor":"#b2b5be","ticks":false,"labelFontSize":5.5,"labelColor":"#50535e","labelPadding":4}},"y2":{"datum":0},
  "color":{"condition":[{"test":"datum.hist >= 0 && datum.hist >= datum.prev","value":"#26a69a"},{"test":"datum.hist >= 0","value":"#b2dfdb"},{"test":"datum.hist < datum.prev","value":"#ff5252"}],"value":"#ffcdd2"}}},
{"data":{"name":"mb"},"mark":{"type":"line","color":"#2196f3","strokeWidth":1,"interpolate":"monotone"},
 "encoding":{"y":{"field":"v","type":"quantitative","title":null,"scale":{"domain":[-0.00453,0.00529],"nice":false,"zero":false},"axis":{"orient":"right","values":[0,0.005],"labelExpr":"format(datum.value, '.5f')","grid":false,"domain":true,"domainColor":"#b2b5be","ticks":false,"labelFontSize":5.5,"labelColor":"#50535e","labelPadding":4}}}},
{"data":{"name":"ms"},"mark":{"type":"line","color":"#ff9a4d","strokeWidth":1,"interpolate":"monotone"},
 "encoding":{"y":{"field":"v","type":"quantitative","title":null,"scale":{"domain":[-0.00453,0.00529],"nice":false,"zero":false},"axis":{"orient":"right","values":[0,0.005],"labelExpr":"format(datum.value, '.5f')","grid":false,"domain":true,"domainColor":"#b2b5be","ticks":false,"labelFontSize":5.5,"labelColor":"#50535e","labelPadding":4}}}},
{"data":{"name":"ell"},"mark":{"type":"point","shape":"M-1,0C-1,-0.469,-0.552,-0.85,0,-0.85C0.552,-0.85,1,-0.469,1,0C1,0.469,0.552,0.85,0,0.85C-0.552,0.85,-1,0.469,-1,0Z","size":1700,"filled":true,"fill":"#5fdfe8","fillOpacity":0.45,"stroke":"#2fc8d8","strokeWidth":0.8,"strokeOpacity":1,"angle":25,"opacity":1},
 "encoding":{"y":{"field":"v","type":"quantitative","title":null,"scale":{"domain":[-0.00453,0.00529],"nice":false,"zero":false},"axis":{"orient":"right","values":[0,0.005],"labelExpr":"format(datum.value, '.5f')","grid":false,"domain":true,"domainColor":"#b2b5be","ticks":false,"labelFontSize":5.5,"labelColor":"#50535e","labelPadding":4}}}},
{"data":{"name":"mlab"},"mark":{"type":"text","align":"left","baseline":"middle","fontSize":6,"color":"#50535e"},
 "encoding":{"y":{"field":"v","type":"quantitative","title":null,"scale":{"domain":[-0.00453,0.00529],"nice":false,"zero":false},"axis":{"orient":"right","values":[0,0.005],"labelExpr":"format(datum.value, '.5f')","grid":false,"domain":true,"domainColor":"#b2b5be","ticks":false,"labelFontSize":5.5,"labelColor":"#50535e","labelPadding":4}},"text":{"field":"t"}}},
{"data":{"name":"note"},"mark":{"type":"text","align":"left","baseline":"middle","fontSize":7.5,"color":"#5a6783"},
 "encoding":{"y":{"field":"v","type":"quantitative","title":null,"scale":{"domain":[-0.00453,0.00529],"nice":false,"zero":false},"axis":{"orient":"right","values":[0,0.005],"labelExpr":"format(datum.value, '.5f')","grid":false,"domain":true,"domainColor":"#b2b5be","ticks":false,"labelFontSize":5.5,"labelColor":"#50535e","labelPadding":4}},"text":{"field":"t"}}}
]
}
]
}
